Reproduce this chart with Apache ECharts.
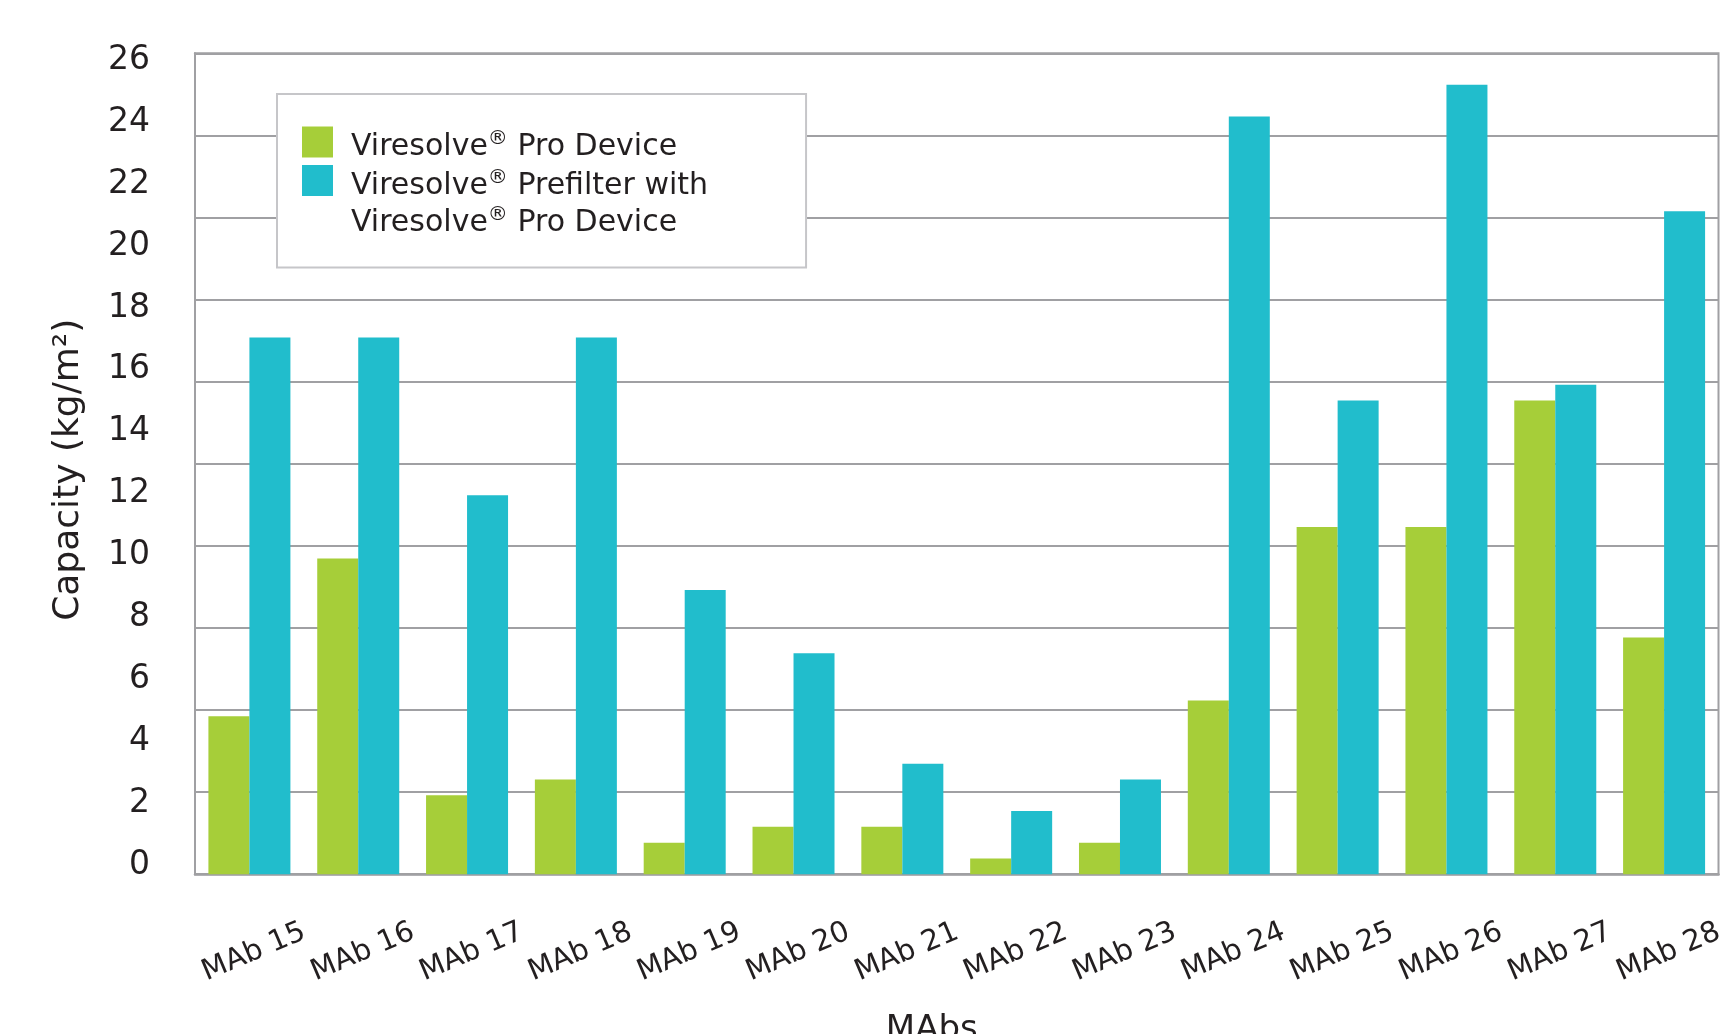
<!DOCTYPE html>
<html>
<head>
<meta charset="utf-8">
<script src="https://cdn.jsdelivr.net/npm/echarts@6/dist/echarts.min.js"></script>
<style>
html,body{margin:0;padding:0;background:#fff;}
#chart{width:1724px;height:1034px;}
</style>
</head>
<body>
<div id="chart"></div>
<script>
const categories = ['MAb 15','MAb 16','MAb 17','MAb 18','MAb 19','MAb 20','MAb 21','MAb 22','MAb 23','MAb 24','MAb 25','MAb 26','MAb 27','MAb 28'];
const proDevice = [5, 10, 2.5, 3, 1, 1.5, 1.5, 0.5, 1, 5.5, 11, 11, 15, 7.5];
const prefilterPro = [17, 17, 12, 17, 9, 7, 3.5, 2, 3, 24, 15, 25, 15.5, 21];
const yTicks = [0, 2, 4, 6, 8, 10, 12, 14, 16, 18, 20, 22, 24, 26];
const seriesNames = ['Viresolve® Pro Device', 'Viresolve® Prefilter with Viresolve® Pro Device'];

const FONT = 'DejaVu Sans';
const TXT = '#231f20';
const GRID = '#a0a0a3';

function legendFmt(name) {
  return name.replace(' with ', ' with\n').split('\n').map(function (line) {
    return line.split('®').map(function (p) { return p ? '{a|' + p + '}' : ''; }).join('{r|®}');
  }).join('\n');
}

const chart = echarts.init(document.getElementById('chart'), null, {renderer: 'canvas'});
chart.setOption({
  animation: false,
  backgroundColor: '#fff',
  grid: {
    left: 195, right: 5.5, top: 53.3, bottom: 159.8,
    show: true, borderColor: GRID, borderWidth: 2, backgroundColor: 'transparent',
    containLabel: false, outerBoundsMode: 'none'
  },
  legend: {
    left: 277, top: 94, orient: 'vertical', icon: 'rect',
    itemWidth: 31, itemHeight: 31, itemGap: -46.5,
    padding: [24, 98, 26, 25],
    backgroundColor: '#fff', borderColor: '#c6c6c9', borderWidth: 2,
    selectedMode: false,
    formatter: legendFmt,
    textStyle: {
      color: TXT, fontFamily: FONT, fontSize: 30, lineHeight: 37,
      padding: [11, 0, 0, 13], backgroundColor: 'rgba(0,0,0,0)',
      rich: {
        a: {fontFamily: FONT, fontSize: 30, lineHeight: 37, color: TXT},
        r: {fontFamily: FONT, fontSize: 20, lineHeight: 32, verticalAlign: 'top', color: TXT}
      }
    },
    data: [
      {name: seriesNames[0]},
      {name: seriesNames[1], textStyle: {padding: [48, 0, 0, 13]}}
    ]
  },
  xAxis: {
    type: 'category', data: categories, boundaryGap: true,
    axisLine: {show: true, lineStyle: {color: GRID, width: 2.5}},
    axisTick: {show: false},
    axisLabel: {
      interval: 0, rotate: 23, align: 'center', verticalAlign: 'middle', margin: 80,
      padding: [0, 0, 0, 10],
      fontFamily: FONT, fontSize: 29, color: TXT
    },
    splitLine: {show: false},
    name: 'MAbs', nameLocation: 'middle', nameGap: 139,
    nameTextStyle: {fontFamily: FONT, fontSize: 34, color: TXT, padding: [0, 50, 0, 0]}
  },
  yAxis: [
    {
      type: 'value', min: 0, max: 26, interval: 2.6, position: 'left',
      axisLine: {show: true, lineStyle: {color: GRID, width: 2}},
      axisTick: {show: false},
      axisLabel: {show: false},
      splitLine: {show: true, lineStyle: {color: GRID, width: 2}}
    },
    {
      type: 'value', min: -0.278, max: 26.22, position: 'left',
      axisLine: {show: false}, axisTick: {show: false}, splitLine: {show: false},
      axisLabel: {customValues: yTicks, margin: 45, fontFamily: FONT, fontSize: 33, color: TXT},
      name: 'Capacity (kg/m²)', nameLocation: 'middle', nameGap: 108,
      nameTextStyle: {fontFamily: FONT, fontSize: 36, color: TXT, padding: [0, 12, 0, 0]}
    }
  ],
  series: [
    {name: seriesNames[0], type: 'bar', data: proDevice, yAxisIndex: 0, barWidth: 41, barGap: '0%', itemStyle: {color: '#a6ce39'}},
    {name: seriesNames[1], type: 'bar', data: prefilterPro, yAxisIndex: 0, barWidth: 41, barGap: '0%', itemStyle: {color: '#21bdcc'}}
  ]
});
</script>
</body>
</html>
